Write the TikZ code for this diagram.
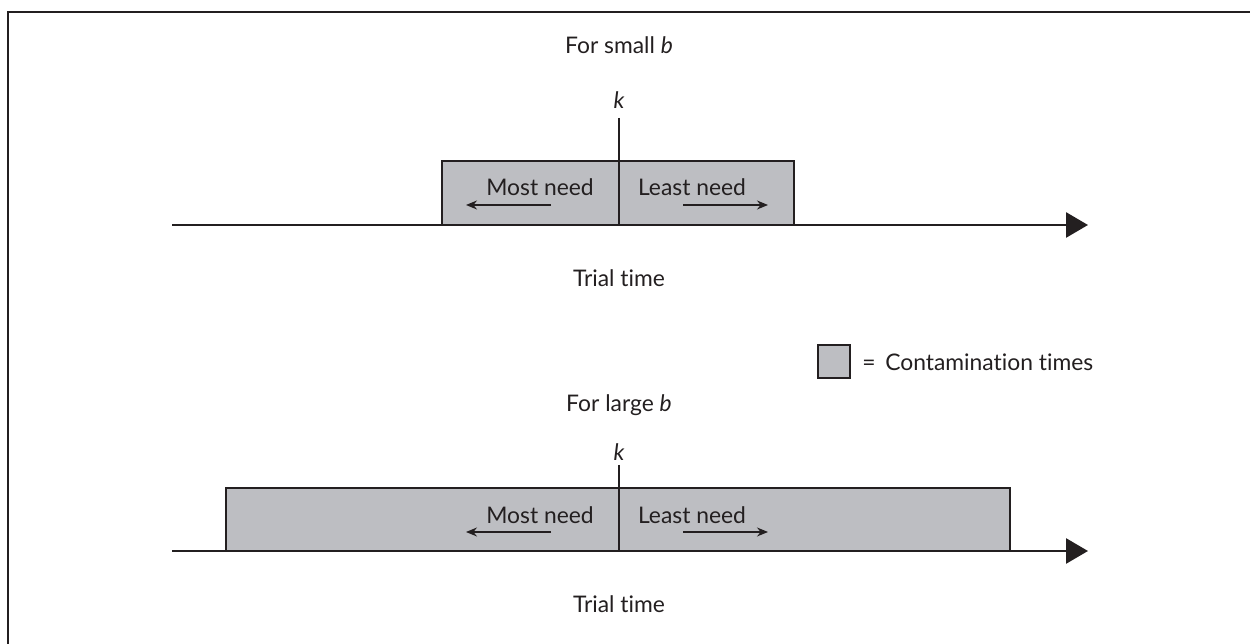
\documentclass[tikz,border=0pt]{standalone}
\usepackage{fontspec}
\setmainfont{Lato}[Ligatures={NoCommon}]
\usetikzlibrary{arrows.meta}
\definecolor{ink}{HTML}{231F20}
\definecolor{band}{HTML}{BDBEC2}
\tikzset{
  axis/.style={ink, line width=1.6pt, -{Triangle[length=0.44cm, width=0.5cm]}},
  needarrow/.style={ink, line width=0.75pt, -{Stealth[length=0.22cm, width=0.18cm]}},
  contam/.style={draw=ink, fill=band, line width=0.9pt},
  lbl/.style={text=ink, font=\fontsize{13}{15}\selectfont, inner sep=0pt}
}
\begin{document}
\begin{tikzpicture}
    \useasboundingbox (0,0) rectangle (25,12.88);
    % frame
    \draw[ink, line width=1.2pt] (0.16,0) -- (0.16,12.64) -- (25,12.64);

    % small b
    \node[lbl] (titleS) at (12.38,11.98) {For small \textit{b}};
    \draw[contam] (8.84,8.38) rectangle (15.88,9.66);
    \coordinate (axisS0) at (3.44,8.38);
    \coordinate (axisS1) at (21.76,8.38);
    \draw[axis] (axisS0) -- (axisS1);
    \node[lbl] (kS) at (12.38,10.88) {\textit{k}};
    \coordinate (kStop) at (12.38,10.52);
    \coordinate (kSbot) at (12.38,8.38);
    \draw[ink, line width=1.2pt] (kStop) -- (kSbot);
    \node[lbl] (mostS) at (10.8,9.14) {Most need};
    \node[lbl] (leastS) at (13.84,9.14) {Least need};
    \coordinate (mostSa) at (11.02,8.78);
    \coordinate (mostSb) at (9.32,8.78);
    \coordinate (leastSa) at (13.66,8.78);
    \coordinate (leastSb) at (15.36,8.78);
    \draw[needarrow] (mostSa) -- (mostSb);
    \draw[needarrow] (leastSa) -- (leastSb);
    \node[lbl] (timeS) at (12.38,7.32) {Trial time};

    % legend
    \draw[contam] (16.36,5.32) rectangle (17.0,5.98);
    \node[lbl, anchor=west] (legend) at (17.24,5.64) {=\, Contamination times};

    % large b
    \node[lbl] (titleL) at (12.38,4.78) {For large \textit{b}};
    \draw[contam] (4.52,1.86) rectangle (20.2,3.12);
    \coordinate (axisL0) at (3.44,1.86);
    \coordinate (axisL1) at (21.76,1.86);
    \draw[axis] (axisL0) -- (axisL1);
    \node[lbl] (kL) at (12.38,3.84) {\textit{k}};
    \coordinate (kLtop) at (12.38,3.58);
    \coordinate (kLbot) at (12.38,1.86);
    \draw[ink, line width=1.2pt] (kLtop) -- (kLbot);
    \node[lbl] (mostL) at (10.8,2.58) {Most need};
    \node[lbl] (leastL) at (13.84,2.58) {Least need};
    \coordinate (mostLa) at (11.02,2.24);
    \coordinate (mostLb) at (9.32,2.24);
    \coordinate (leastLa) at (13.66,2.24);
    \coordinate (leastLb) at (15.36,2.24);
    \draw[needarrow] (mostLa) -- (mostLb);
    \draw[needarrow] (leastLa) -- (leastLb);
    \node[lbl] (timeL) at (12.38,0.8) {Trial time};
\end{tikzpicture}
\end{document}
